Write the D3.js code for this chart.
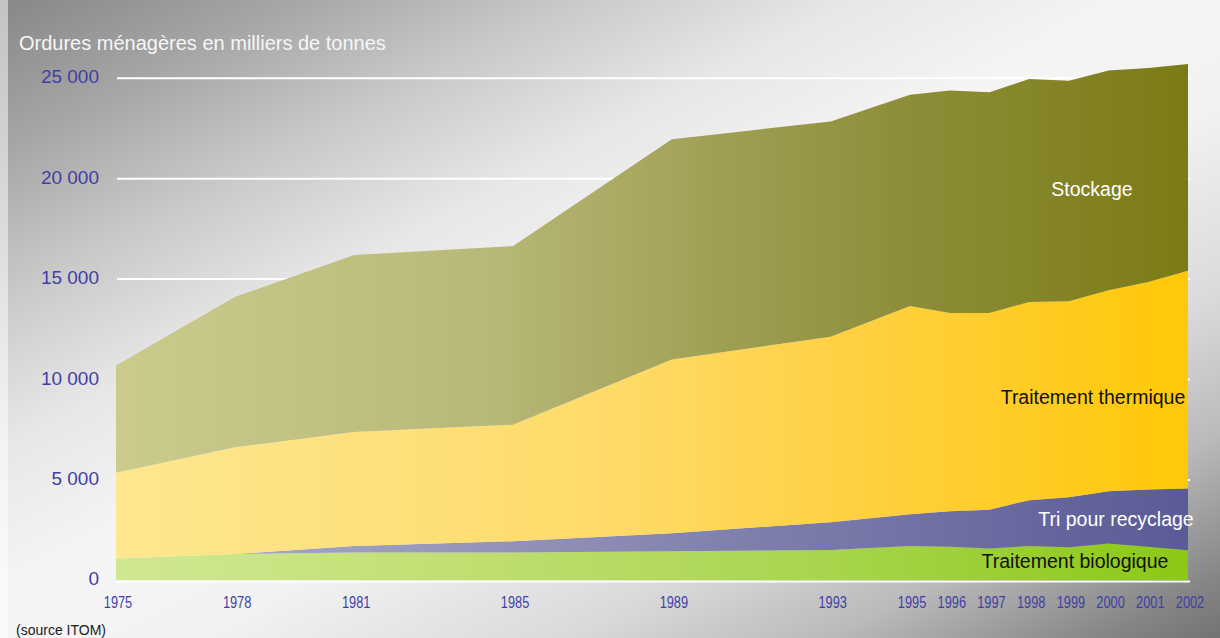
<!DOCTYPE html>
<html>
<head>
<meta charset="utf-8">
<script src="https://cdn.jsdelivr.net/npm/d3@7/dist/d3.min.js"></script>
<style>
  html, body { margin: 0; padding: 0; background: #ffffff; }
  svg { display: block; font-family: "Liberation Sans", Arial, Helvetica, sans-serif; }
</style>
</head>
<body>
<svg id="chart" width="1220" height="638"></svg>
<script>
// Household waste by treatment method, thousands of tonnes
const years = [1975, 1978, 1981, 1985, 1989, 1993, 1995, 1996, 1997, 1998, 1999, 2000, 2001, 2002];
const biologique = [1080, 1310, 1380, 1380, 1445, 1510, 1710, 1670, 1580, 1710, 1645, 1830, 1670, 1500];
const recyclage  = [0, 0, 330, 565, 900, 1380, 1580, 1770, 1935, 2280, 2495, 2605, 2850, 3070];
const thermique  = [4270, 5310, 5680, 5805, 8655, 9240, 10370, 9870, 9795, 9870, 9760, 10015, 10330, 10850];
const stockage   = [5350, 7500, 8810, 8900, 10970, 10720, 10520, 11080, 11000, 11100, 10975, 10940, 10660, 10290];

const seriesKeys   = ["biologique", "recyclage", "thermique", "stockage"];
const seriesLabels = ["Traitement biologique", "Tri pour recyclage", "Traitement thermique", "Stockage"];
const yTicks      = [0, 5000, 10000, 15000, 20000, 25000];
const yTickLabels = ["0", "5 000", "10 000", "15 000", "20 000", "25 000"];
const xTickLabels = years.map(String);
const title  = "Ordures ménagères en milliers de tonnes";
const source = "(source ITOM)";

const svg = d3.select("#chart");
const W = 1220, H = 638;

const x = d3.scaleLinear().domain([1975, 2002]).range([116, 1188]);
const y = d3.scaleLinear().domain([0, 25000]).range([580.3, 78.3]);

const defs = svg.append("defs");

// Background: diagonal grey gradient, light along the bottom-left / top-right diagonal
const bg = defs.append("linearGradient").attr("id", "bg")
  .attr("x1", 0).attr("y1", 0).attr("x2", 1).attr("y2", 1);
[[0, "#878787"], [0.12, "#a6a6a6"], [0.235, "#c9c9c9"], [0.35, "#e7e7e7"],
 [0.47, "#f5f5f5"], [0.58, "#f2f2f2"], [0.73, "#dadada"], [0.84, "#bababa"],
 [0.95, "#868686"], [1, "#737373"]]
  .forEach(([o, c]) => bg.append("stop").attr("offset", o).attr("stop-color", c));

svg.append("rect").attr("width", W).attr("height", H).attr("fill", "url(#bg)");
svg.append("rect").attr("width", 8).attr("height", H).attr("fill", "#ffffff").attr("opacity", 0.5);

// Horizontal colour ramps for each layer
const ramps = {
  biologique: [[0, "#d0e892"], [0.3, "#c1e074"], [0.65, "#a9d54f"], [1, "#8cc816"]],
  recyclage:  [[0, "#ababca"], [0.3, "#9898bc"], [0.65, "#7a7aaa"], [1, "#5a5a96"]],
  thermique:  [[0, "#fee790"], [0.45, "#fedb6a"], [0.7, "#ffd040"], [1, "#ffc808"]],
  stockage:   [[0, "#cbcb8e"], [0.35, "#b8b878"], [0.55, "#a1a156"], [0.73, "#8e8e3a"], [1, "#7b7b16"]]
};
seriesKeys.forEach(k => {
  const g = defs.append("linearGradient").attr("id", "g-" + k)
    .attr("gradientUnits", "userSpaceOnUse")
    .attr("x1", x(1975)).attr("y1", 0).attr("x2", x(2002)).attr("y2", 0);
  ramps[k].forEach(([o, c]) => g.append("stop").attr("offset", o).attr("stop-color", c));
});

// Gridlines (white) behind the layers
svg.append("g").selectAll("line").data(yTicks.slice(1)).join("line")
  .attr("x1", 117).attr("x2", 1190)
  .attr("y1", d => y(d)).attr("y2", d => y(d))
  .attr("stroke", "#ffffff").attr("stroke-width", 2);
svg.append("line")
  .attr("x1", 116).attr("x2", 1190)
  .attr("y1", y(0) + 1.2).attr("y2", y(0) + 1.2)
  .attr("stroke", "#ffffff").attr("stroke-width", 2);

// Stacked layers
const table = years.map((yr, i) => ({
  year: yr, biologique: biologique[i], recyclage: recyclage[i],
  thermique: thermique[i], stockage: stockage[i]
}));
const stack = d3.stack().keys(seriesKeys)(table);
const area = d3.area()
  .x(d => x(d.data.year))
  .y0(d => y(d[0]))
  .y1(d => y(d[1]))
  .curve(d3.curveLinear);

svg.append("g").selectAll("path").data(stack).join("path")
  .attr("d", area)
  .attr("fill", d => "url(#g-" + d.key + ")");

// Layer names
const layerText = [
  { key: "stockage",   cx: 1092, by: 196, color: "#ffffff" },
  { key: "thermique",  cx: 1093, by: 404, color: "#111111" },
  { key: "recyclage",  cx: 1116, by: 526, color: "#ffffff" },
  { key: "biologique", cx: 1075, by: 568, color: "#111111" }
];
svg.append("g").selectAll("text").data(layerText).join("text")
  .attr("x", d => d.cx).attr("y", d => d.by)
  .attr("text-anchor", "middle")
  .attr("font-size", 19.5)
  .attr("fill", d => d.color)
  .text(d => seriesLabels[seriesKeys.indexOf(d.key)]);

// Y axis labels
svg.append("g").selectAll("text").data(yTicks).join("text")
  .attr("x", 99).attr("y", d => y(d) + 5)
  .attr("text-anchor", "end")
  .attr("font-size", 19)
  .attr("fill", "#3f3fa6")
  .text((d, i) => yTickLabels[i]);

// X axis labels (narrow digits)
svg.append("g").selectAll("text").data(years).join("text")
  .attr("transform", d => `translate(${x(d) + 2},607.5) scale(0.8,1)`)
  .attr("text-anchor", "middle")
  .attr("font-size", 16)
  .attr("fill", "#3f3fa6")
  .text((d, i) => xTickLabels[i]);

// Title and source
svg.append("text").attr("x", 19).attr("y", 50)
  .attr("font-size", 20).attr("fill", "#f6f6f6").text(title);
svg.append("text").attr("x", 16).attr("y", 635)
  .attr("font-size", 14).attr("fill", "#1a1a1a").text(source);
</script>
</body>
</html>
